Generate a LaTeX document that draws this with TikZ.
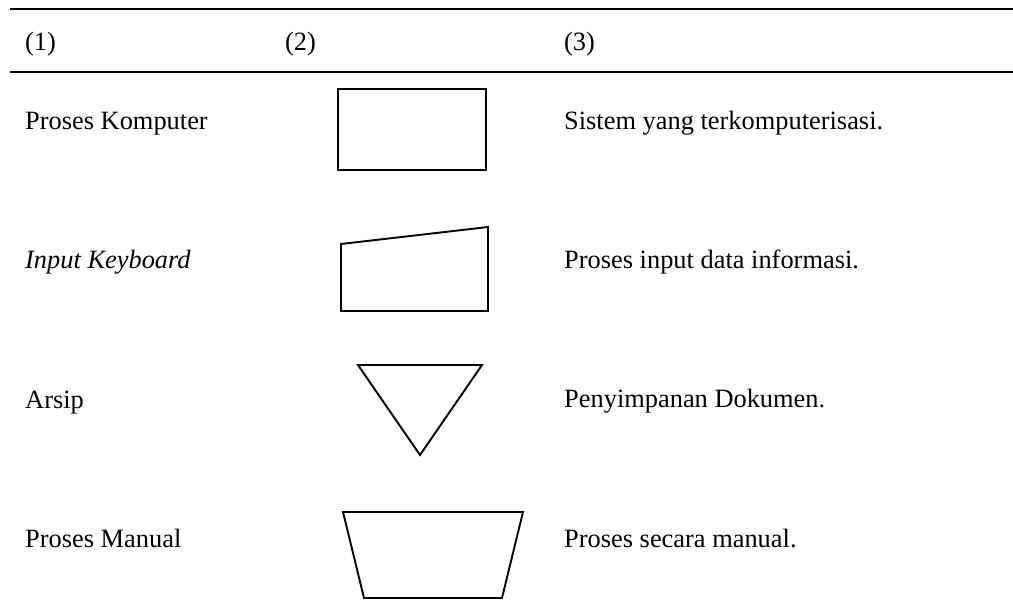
\documentclass[tikz,border=0pt]{standalone}
\usepackage{fontspec}
\setmainfont{Liberation Serif}
\begin{document}
\begin{tikzpicture}[x=1pt,y=-1pt,
  rulel/.style={line width=2pt},
  sym/.style={draw,line width=1.9pt,line join=miter},
  cell/.style={anchor=base west,inner sep=0pt,font=\fontsize{26.4}{30}\selectfont}]
\useasboundingbox (0,0) rectangle (1013,608);

% table rules
\draw[rulel] (10,9) -- (1013,9);
\draw[rulel] (10,72) -- (1013,72);

% header
\node[cell] (h1) at (25,50) {(1)};
\node[cell] (h2) at (285,50) {(2)};
\node[cell] (h3) at (564,50) {(3)};

% column (1): names
\node[cell] (n1) at (25,129) {Proses Komputer};
\node[cell] (n2) at (25,268) {\itshape Input Keyboard};
\node[cell] (n3) at (25,408) {Arsip};
\node[cell] (n4) at (25,547) {Proses Manual};

% column (2): symbols
\draw[sym] (338,89) rectangle (486,170);
\draw[sym] (341,244) -- (488,227) -- (488,311) -- (341,311) -- cycle;
\draw[sym] (358,365) -- (482,365) -- (420,455) -- cycle;
\draw[sym] (343,512) -- (523,512) -- (502,598) -- (364,598) -- cycle;

% column (3): descriptions
\node[cell] (d1) at (564,129) {Sistem yang terkomputerisasi.};
\node[cell] (d2) at (564,268) {Proses input data informasi.};
\node[cell] (d3) at (564,407) {Penyimpanan Dokumen.};
\node[cell] (d4) at (564,547) {Proses secara manual.};
\end{tikzpicture}
\end{document}
